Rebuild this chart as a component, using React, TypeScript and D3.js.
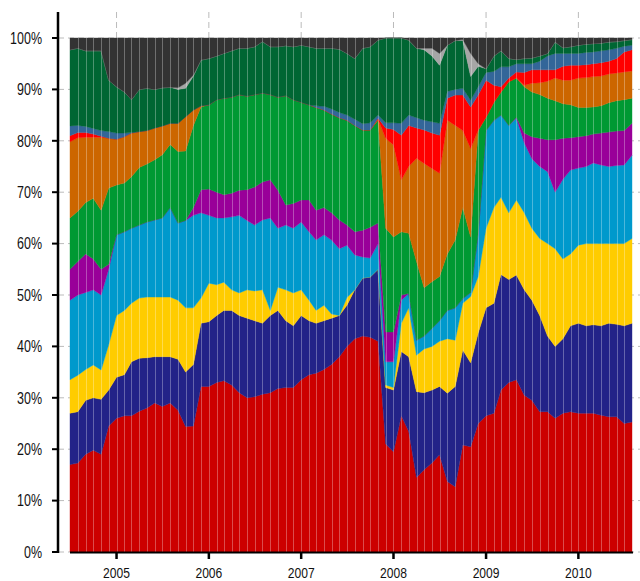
import React from 'react';
import * as d3 from 'd3';

const months = [
  "2004-07","2004-08","2004-09","2004-10","2004-11","2004-12",
  "2005-01","2005-02","2005-03","2005-04","2005-05","2005-06","2005-07","2005-08","2005-09","2005-10","2005-11","2005-12",
  "2006-01","2006-02","2006-03","2006-04","2006-05","2006-06","2006-07","2006-08","2006-09","2006-10","2006-11","2006-12",
  "2007-01","2007-02","2007-03","2007-04","2007-05","2007-06","2007-07","2007-08","2007-09","2007-10","2007-11","2007-12",
  "2008-01","2008-02","2008-03","2008-04","2008-05","2008-06","2008-07","2008-08","2008-09","2008-10","2008-11","2008-12",
  "2009-01","2009-02","2009-03","2009-04","2009-05","2009-06","2009-07","2009-08","2009-09","2009-10","2009-11","2009-12",
  "2010-01","2010-02","2010-03","2010-04","2010-05","2010-06","2010-07","2010-08"
];

const red = [17,17.3,19,19.8,19,24.5,26,26.5,26.5,27.4, 28,29,28.3,29,27.6,24.4,24.5,32.2,32.2,33, 33.3,32.5,31,30,30.2,30.7,31,31.8,32,32, 33.5,34.5,34.8,35.5,36.5,38,40,41.5,42,41.8, 41,21,19.5,26.5,23.5,14.5,16,17.3,18.9,13.7, 12.7,20.8,20.5,25,26.5,27,31.5,33,33.5,30.5, 29.5,27.3,27.3,26,27,27.3,27,27,27,26.6, 26.3,26.3,25,25.3];
const navy = [10,10,10.5,10.2,10.7,7,8,8,10.5,10.3, 9.8,9,9.7,9,9.9,10.6,12,12.3,12.6,13, 13.7,14.5,15,15.5,14.8,13.8,15,15.2,13,12, 12.5,10.5,9.7,9.5,9,8,8,9.5,11.3,11.7, 14,11,12,12.5,14.5,16.7,15,14.2,13.3,17.2, 19.5,18.5,16.3,17.6,21,21.4,22.5,20,20.4,20.5, 19.5,18.7,14.7,14,14.5,16.7,17.5,17,17.2,17.4, 18.2,18,19,19.2];
const yellow = [6.5,7.1,6,6.4,5.7,8.8,12,12.5,11.4,11.7, 11.8,11.6,11.6,11.6,11.5,12.5,11,4.9,7.5,6, 5.5,4,4.4,5.5,5.8,6.5,1,4.5,6,6.4, 5,4,2.5,3,0.8,0,1.5,0,0,0, 0,0.5,0.5,5.5,9.5,7.1,8.5,8.5,8.8,10.6, 9,9.1,12.9,11,15.5,18.6,15,13,14.6,15, 14,15,18,19,15.5,14,15.2,16,15.8,16, 15.5,15.7,16,16.5];
const lightBlue = [15.5,15.6,15,14.6,14.6,14.7,15.7,15.3,14.6,14.2, 14.6,15,15.4,17.4,15,17,18,16.6,13.2,13, 12.5,14.2,15.1,13.5,12.8,13.6,18,11.5,12.6,12.6, 13.2,13.3,13.7,13.7,14.4,13,10.2,6.8,4.1,3.7, 5,4.5,5,4.5,2.8,2.9,2.5,3.5,4,5.5, 6.3,0.9,0.8,8.4,19,17,16,17,15.9,13.6, 13.5,14,14,11,15.5,16.3,15,15,15.7,15.3, 15,15.2,15.3,16.2];
const purple = [6,6.5,7.5,6,5,1,0,0,0,0, 0,0,0,0,0,0,1.5,4.5,5.1,5, 4.5,4.6,4.9,6,7.4,7.4,7.4,7.4,3.9,4.8, 4.3,6.2,5.8,5.3,5.3,5.6,3.9,4.5,5.2,6, 4,5.8,5.8,1,0,0,0,0,0,0, 0,0,0,0,0,0,0,0,0.2,1.9, 4.3,5.5,6.2,10.2,8,6.3,6.1,6,5.6,6.2, 6.7,6.7,6.7,6.2];
const green = [10,9.8,10,11.8,11.5,14.8,9.7,9.5,10,11.2, 11.3,11.7,12.3,12.3,13.9,13.5,16,16.1,16.4,18, 18.8,18.7,18.6,18.2,18,17.3,16.6,18.1,21.3,20.2, 19,18.5,20,19,19.2,19.9,20.4,20.7,19.5,18.9, 20,20.2,18.5,12.3,11.7,15.3,9.4,9.1,8.6,11, 13.2,17.7,10.8,20,2.6,3.5,4.5,8.5,7.6,9, 8.7,8.5,8.1,7.6,6.7,6.4,5.7,5.5,5.3,5.3, 5.7,5.9,6,4.9];
const orange = [14.8,14.3,12.7,11.9,14.2,9.7,8.9,9,8.5,7, 6.5,6.2,5.6,4.1,5.5,6.7,3,0.2,0,0, 0,0,0,0,0,0,0,0,0,0, 0,0,0,0,0,0,0,0,0,0, 0.2,17.5,17.9,10.1,13,20.1,24.2,22,20.1,26, 22.3,15,17.2,0.1,0,0,0,0,0,0.3, 1.7,2.3,3.3,4.4,4.6,4.8,5.7,5.8,5.9,5.8, 5.6,5.4,5.4,5.3];
const brightRed = [1.2,1,0.9,0.6,0.2,0,0,0,0,0, 0,0,0,0,0,0,0,0,0,0, 0,0,0,0,0,0,0,0,0,0, 0,0,0,0,0,0,0,0,0,0, 0.2,2,3,8.7,8,5.9,6.5,6.9,7.4,4.3, 5.9,6.9,8.1,6.8,7.2,3.3,1,0.7,1.2,2.5, 2.6,2.5,2.2,1.6,2.7,2.9,2.5,2.5,2.5,2.6, 2.5,2.8,3.9,4.1];
const steelBlue = [1.9,1.4,1.2,1.1,1.1,1.3,1.2,0.7,0.1,0, 0,0,0,0,0,0,0,0,0,0, 0,0,0,0,0,0,0,0,0,0, 0,0,0.3,0.7,1,1,1,1.2,1.2,1.4, 0.6,1,1.3,2.3,2,2,1.9,2.2,2.3,1.3, 1.1,1.3,1.3,1.6,1.5,2.7,3.9,2.2,1.6,1.7, 1.2,1.7,2.7,3.2,2.5,2.3,2.3,2.4,2.3,2.3, 2.2,2,1.1,0.9];
const darkGreen = [14.8,15,14.7,15.1,15.5,10,9,8,6.4,8.2, 8.2,7.5,7.4,7,6.6,5.5,6.6,8.9,9,8.5, 8.7,9,9,9.3,9.3,10,9.3,9.8,9.7,10.3, 11.1,11.3,11.2,11.3,11.8,12.3,12,11.8,14.7,14.8, 14.6,16.5,16.5,16.6,14.6,13.5,13.7,12.8,11.3,9, 9.5,9.3,4.6,4,0.7,3,3.1,1.6,0.8,1, 1.1,1,0.5,2.2,1.1,1.3,1.6,1.6,1.6,1.5, 1.5,1.3,1.1,1.1];
const gray = [0,0,0,0,0,0,0,0,0,0, 0,0,0,0,0.3,1,0.2,0,0,0, 0,0,0,0,0,0,0,0,0,0, 0,0,0,0,0,0,0,0,0,0, 0,0,0,0,0,0,0.3,1.5,2.3,0, 0,0.2,4.5,0.5,0,0,0,0,0,0, 0,0,0,0,0,0,0,0,0,0, 0,0,0,0];
const darkGray = [2.3,2,2.5,2.5,2.5,8.2,9.5,10.5,12,10, 9.8,10,9.7,9.6,9.7,8.8,7.2,4.3,4,3.5, 3,2.5,2,2,1.7,0.7,1.7,1.7,1.5,1.7, 1.4,1.7,2,2,2,2.2,3,4,2,1.7, 0.4,0,0,0,0.4,2,2,2,3,1.4, 0.5,0.3,3,5,6,3.5,2.5,4,4.2,4, 3.9,3.5,3,0.8,1.9,1.7,1.4,1.2,1.1,1, 0.8,0.7,0.5,0.3];

const yTicks = [0, 0.1, 0.2, 0.3, 0.4, 0.5, 0.6, 0.7, 0.8, 0.9, 1];
const yearTicks = ["2005", "2006", "2007", "2008", "2009", "2010"];

const seriesList = [
  { key: "red", values: red, color: "#cc0000" },
  { key: "navy", values: navy, color: "#232388" },
  { key: "yellow", values: yellow, color: "#ffcc00" },
  { key: "lightBlue", values: lightBlue, color: "#0099cc" },
  { key: "purple", values: purple, color: "#990099" },
  { key: "green", values: green, color: "#009933" },
  { key: "orange", values: orange, color: "#cc6600" },
  { key: "brightRed", values: brightRed, color: "#ff0000" },
  { key: "steelBlue", values: steelBlue, color: "#336699" },
  { key: "darkGreen", values: darkGreen, color: "#006633" },
  { key: "gray", values: gray, color: "#a6a6a6" },
  { key: "darkGray", values: darkGray, color: "#333333" },
];

const FONT = "'Liberation Sans', Arial, sans-serif";
const NARROW = 0.78;

export default function App() {
  const W = 640, H = 581;
  const parse = d3.timeParse("%Y-%m");
  const dates = months.map((m) => parse(m) as Date);
  const x = d3.scaleTime().domain([dates[0], dates[dates.length - 1]]).range([70, 632]);
  const y = d3.scaleLinear().domain([0, 1]).range([552, 38]);

  const rows = dates.map((d, i) => {
    const r: any = { date: d };
    seriesList.forEach((s) => (r[s.key] = s.values[i]));
    return r;
  });
  const stack = d3.stack<any>().keys(seriesList.map((s) => s.key)).offset(d3.stackOffsetExpand);
  const layers = stack(rows);
  const area = d3.area<any>()
    .x((d) => x(d.data.date))
    .y0((d) => y(d[0]))
    .y1((d) => y(d[1]));

  const yearDates = yearTicks.map((t) => new Date(+t, 0, 1));
  const pct = d3.format(".0%");

  return (
    <svg width={W} height={H} style={{ position: "absolute", left: 0, top: 0, background: "#fff" }}>
      {/* gridlines */}
      <g stroke="#bbbbbb" strokeWidth={1} strokeDasharray="6,4" fill="none">
        {yTicks.map((t) => (
          <line key={"h" + t} x1={58} x2={W} y1={y(t)} y2={y(t)} />
        ))}
        {yearDates.map((d, i) => (
          <line key={"v" + i} x1={x(d)} x2={x(d)} y1={12} y2={552} />
        ))}
      </g>
      {/* stacked areas */}
      <g>
        {layers.map((layer, i) => (
          <path key={layer.key} d={area(layer) || ""} fill={seriesList[i].color}
            stroke={seriesList[i].color} strokeWidth={0.4} />
        ))}
      </g>
      {/* seams between data points */}
      <g stroke="#ffffff" strokeOpacity={0.3} strokeWidth={1}>
        {dates.slice(1, -1).map((d, i) => (
          <line key={"s" + i} x1={Math.round(x(d)) + 0.5} x2={Math.round(x(d)) + 0.5} y1={y(1)} y2={y(0)} />
        ))}
      </g>
      {/* y axis */}
      <line x1={58} x2={58} y1={12} y2={553} stroke="#000" strokeWidth={2.5} />
      <g>
        {yTicks.map((t) => (
          <g key={"yt" + t}>
            <line x1={52} x2={58} y1={y(t)} y2={y(t)} stroke="#000" strokeWidth={2} />
            <text transform={`translate(42,${y(t)}) scale(${NARROW},1)`} dy="0.36em" textAnchor="end"
              fontFamily={FONT} fontSize={16} fill="#111">
              {pct(t)}
            </text>
          </g>
        ))}
      </g>
      {/* x axis */}
      <line x1={70} x2={633} y1={552.5} y2={552.5} stroke="#000" strokeWidth={2} />
      <g>
        {yearDates.map((d, i) => (
          <g key={"xt" + i}>
            <line x1={x(d)} x2={x(d)} y1={552} y2={559} stroke="#000" strokeWidth={2.5} />
            <text transform={`translate(${x(d)},577.5) scale(${NARROW},1)`} textAnchor="middle"
              fontFamily={FONT} fontSize={15.5} fill="#111">
              {yearTicks[i]}
            </text>
          </g>
        ))}
      </g>
    </svg>
  );
}
